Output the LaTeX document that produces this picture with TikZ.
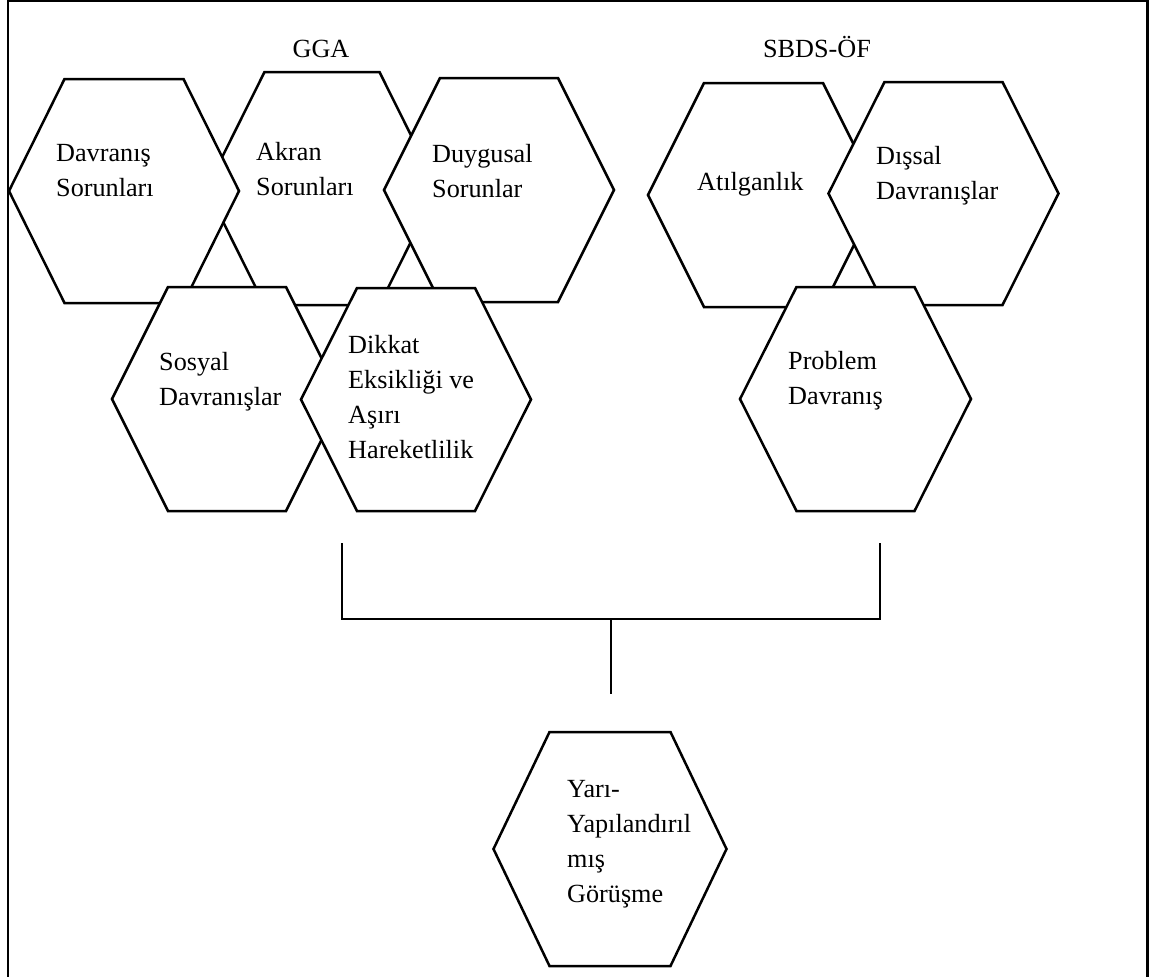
\documentclass[tikz,border=0pt]{standalone}
\usepackage{fontspec}
\setmainfont{Liberation Serif}

\tikzset{
  hexline/.style={draw=black, fill=white, line width=2.5pt, line join=miter},
  % labels are placed by the top of a strut on their first line
  lbl/.style={anchor=north west, align=left, inner sep=0pt,
              font=\fontsize{26.2}{35}\selectfont,
              execute at begin node=\strut},
  heading/.style={anchor=base, inner sep=0pt,
                  font=\fontsize{26.2}{35}\selectfont},
  wire/.style={draw=black, line width=1.3pt},
  frame/.style={draw=black, line width=2.2pt},
}

% flat-topped hexagon: centre x, centre y, half width, half height, half top edge
\newcommand\hexcell[5]{%
  \path[hexline] (#1-#3,#2) -- (#1-#5,#2-#4) -- (#1+#5,#2-#4)
    -- (#1+#3,#2) -- (#1+#5,#2+#4) -- (#1-#5,#2+#4) -- cycle;}

% strut height above the first baseline
\def\rise{22.5}

\begin{document}
\begin{tikzpicture}[x=1pt, y=-1pt]
  \useasboundingbox (0,0) rectangle (1149,977);

  % outer frame (open at the bottom)
  \draw[frame] (8,977) -- (8,1.2) -- (1147.5,1.2) -- (1147.5,977);

  % group headings
  \node[heading] (gga)  at (321,57) {GGA};
  \node[heading] (sbds) at (817,57) {SBDS-ÖF};

  % GGA cluster, back to front
  \hexcell{322}{188.5}{115.5}{116.5}{57.5}
  \hexcell{124}{191}{115}{112}{59.5}
  \hexcell{499}{190}{115}{112}{59}
  \hexcell{227}{399}{115}{112}{59}
  \hexcell{416}{399.5}{115}{111.5}{59}

  % SBDS-ÖF cluster, back to front
  \hexcell{763.5}{195}{115.5}{112}{59.5}
  \hexcell{943.5}{193.5}{115}{111.5}{59}
  \hexcell{855.5}{399}{115.5}{112}{59}

  % interview
  \hexcell{610}{849}{116.5}{117}{60.5}

  % cell labels (x, first baseline minus strut height)
  \node[lbl] (davranis)   at (56,167-\rise)  {Davranış\\Sorunları};
  \node[lbl] (akran)      at (256,165-\rise) {Akran\\Sorunları};
  \node[lbl] (duygusal)   at (432,167-\rise) {Duygusal\\Sorunlar};
  \node[lbl] (sosyal)     at (159,375-\rise) {Sosyal\\Davranışlar};
  \node[lbl] (dikkat)     at (348,358-\rise) {Dikkat\\Eksikliği ve\\Aşırı\\Hareketlilik};
  \node[lbl] (atilganlik) at (697,188-\rise) {Atılganlık};
  \node[lbl] (dissal)     at (876,169-\rise) {Dışsal\\Davranışlar};
  \node[lbl] (problem)    at (788,374-\rise) {Problem\\Davranış};
  \node[lbl] (yari)       at (567,803-\rise) {Yarı-\\Yapılandırıl\\mış\\Görüşme};

  % joining bracket
  \coordinate (lefttop)  at (342,543);
  \coordinate (righttop) at (880,543);
  \coordinate (join)     at (611,619);
  \coordinate (stem)     at (611,694);
  \draw[wire] (lefttop) |- (join) -| (righttop);
  \draw[wire] (join) -- (stem);
\end{tikzpicture}
\end{document}
